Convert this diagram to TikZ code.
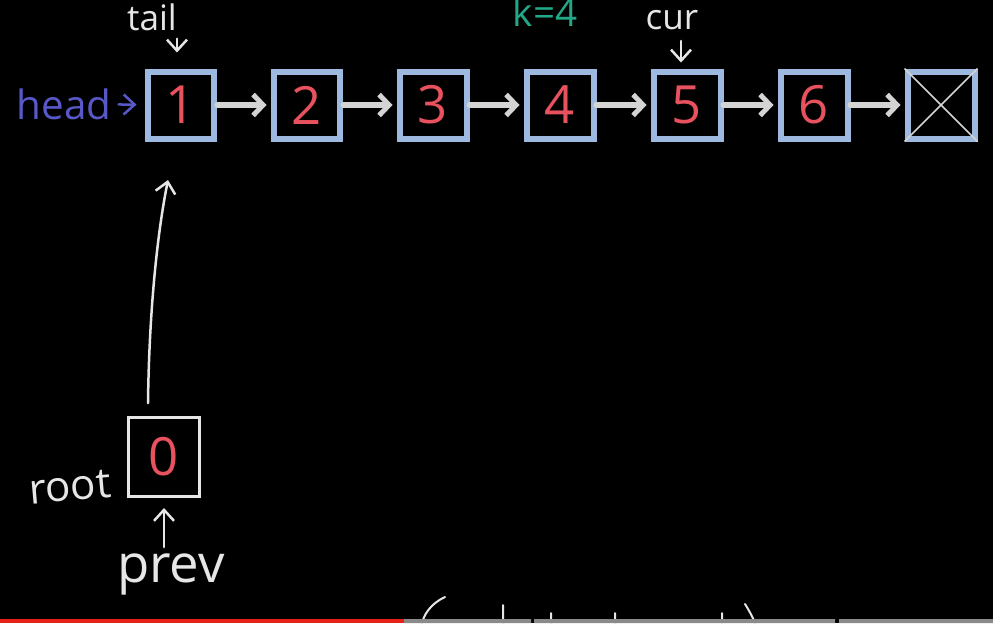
\documentclass[tikz,border=0pt]{standalone}
\usepackage{fontspec}
\setmainfont{Open Sans}
\usetikzlibrary{arrows.meta}
\definecolor{boxblue}{HTML}{9DB9DF}
\definecolor{numred}{HTML}{E8515E}
\definecolor{linkgray}{HTML}{D4D4D4}
\definecolor{chalk}{HTML}{E6E6E6}
\definecolor{headblue}{HTML}{5858C8}
\definecolor{kgreen}{HTML}{22A887}
\definecolor{barred}{HTML}{E62117}
\definecolor{bargray}{HTML}{8A8A8A}
\tikzset{
  cell/.style={draw=boxblue,line width=0.12cm,minimum size=1.34cm,inner sep=0pt,
    text=numred,font=\fontsize{30}{30}\selectfont},
  link/.style={draw=linkgray,line width=0.12cm,line cap=round,
    arrows={-Straight Barb[length=0.2cm,width=0.42cm,line width=0.1cm]},shorten >=0.08cm},
  pen/.style={draw=chalk,line width=0.05cm,line cap=round,
    arrows={-Straight Barb[length=0.22cm,width=0.4cm,line width=0.05cm]}},
  word/.style={text=chalk,font=\fontsize{20}{20}\selectfont}
}
\begin{document}
\begin{tikzpicture}[x=0.02cm,y=-0.02cm]
\fill[black] (0,0) rectangle (993,623);
\useasboundingbox (0,0) rectangle (993,623);
% the list
\foreach \n/\x in {1/181,2/307,3/433,4/560,5/687,6/814}
    \node[cell] (n\n) at (\x,105) {\n};
\node[cell] (nil) at (941,105) {};
\draw[linkgray,line width=0.03cm] (nil.north west) -- (nil.south east)
    (nil.north east) -- (nil.south west);
\foreach \a/\b in {n1/n2,n2/n3,n3/n4,n4/n5,n5/n6,n6/nil}
    \draw[link] (\a) -- (\b);
% pointers
\node[word] (tail) at (152,17) {tail};
\draw[pen,shorten <=0.04cm,shorten >=0.32cm] (tail.south -| 177,0) -- (n1.north -| 177,0);
\node[word] (cur) at (672,20) {cur};
\draw[pen,shorten <=0.1cm,shorten >=0.12cm] (cur.south -| 681,0) -- (n5.north -| 681,0);
\node[text=kgreen,font=\fontsize{22}{22}\selectfont] (k) at (545,12) {k=4};
\node[text=headblue,font=\fontsize{23}{23}\selectfont] (head) at (64,104) {head};
\draw[pen,draw=headblue,shorten <=0.02cm,shorten >=0.16cm] (head) -- (n1);
% dummy node
\node[draw=chalk,line width=0.06cm,minimum width=1.44cm,minimum height=1.58cm,
    text=numred,font=\fontsize{30}{30}\selectfont] (root) at (164,457) {0};
\node[word,font=\fontsize{24}{24}\selectfont,rotate=5] (rootlbl) at (70,487) {root};
\node[word,font=\fontsize{30}{30}\selectfont] (prev) at (171,574) {prev};
\draw[pen] (prev.north -| root.south) -- ([yshift=-0.2cm]root.south);
\coordinate (up) at (168,180);
\draw[pen] ([xshift=-0.32cm,yshift=0.26cm]root.north) .. controls (149,320) and (156,240) .. (up);
% cut-off writing at the bottom
\draw[chalk,line width=0.04cm,line cap=round] (445,597) .. controls (430,604) and (424,615) .. (422,623)
    (503,605) -- (503,623) (551,613) -- (551,623) (615,613) -- (615,623)
    (722,613) -- (722,623) (745,604) .. controls (750,612) and (753,618) .. (755,623);
% player bar
\fill[barred] (0,619) rectangle (404,623);
\fill[bargray] (404,619) rectangle (531,623) (534,619) rectangle (835,623) (839,619) rectangle (993,623);
\end{tikzpicture}
\end{document}
